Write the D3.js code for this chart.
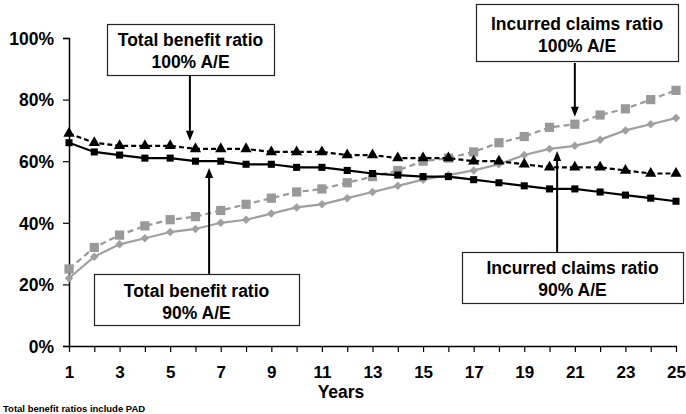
<!DOCTYPE html>
<html>
<head>
<meta charset="utf-8">
<script src="https://cdn.jsdelivr.net/npm/d3@7"></script>
<style>
  html, body { margin: 0; padding: 0; background: #fff; }
  svg { display: block; font-family: "Liberation Sans", Arial, sans-serif; }
</style>
</head>
<body>
<svg id="chart" width="686" height="414"></svg>
<script>
// Policy years on the horizontal axis
const years = d3.range(1, 26);
const xTickLabels = [1, 3, 5, 7, 9, 11, 13, 15, 17, 19, 21, 23, 25];
const yTicks = [0, 20, 40, 60, 80, 100];

// Ratios in percent, one value per year
const totalBenefit100 = [69, 66, 65, 65, 65, 64, 64, 64, 63, 63, 63, 62, 62, 61, 61, 61, 60, 60, 59, 58, 58, 58, 57, 56, 56];
const totalBenefit90  = [66, 63, 62, 61, 61, 60, 60, 59, 59, 58, 58, 57, 56, 55.5, 55, 55, 54, 53, 52, 51, 51, 50, 49, 48, 47];
const incurred100     = [25, 32, 36, 39, 41, 42, 44, 46, 48, 50, 51, 53, 55, 57, 60, 61, 63, 66, 68, 71, 72, 75, 77, 80, 83];
const incurred90      = [22, 29, 33, 35, 37, 38, 40, 41, 43, 45, 46, 48, 50, 52, 54, 55.5, 57, 59, 62, 64, 65, 67, 70, 72, 74];

const svg = d3.select("#chart");
const plotLeft = 69, plotRight = 676, plotTop = 38, plotBottom = 346;

const x = d3.scaleLinear().domain([1, 25]).range([plotLeft, plotRight]);
const y = d3.scaleLinear().domain([0, 100]).range([plotBottom, plotTop]);

// Axes
const yAxis = d3.axisLeft(y).tickValues(yTicks).tickSize(6).tickFormat(d => d + "%");
const gy = svg.append("g").attr("transform", `translate(${plotLeft},0)`).call(yAxis);
gy.select(".domain").attr("stroke", "#000").attr("stroke-width", 1.5);
gy.selectAll(".tick line").attr("stroke", "#000").attr("stroke-width", 1.2);
gy.selectAll(".tick text")
  .attr("x", -15).attr("dy", "0.36em")
  .attr("font-size", 17.5).attr("font-weight", "bold").attr("fill", "#000")
  .attr("font-family", "Liberation Sans, Arial, sans-serif");

const xAxis = d3.axisBottom(x).tickValues(years).tickSize(6).tickSizeOuter(0)
  .tickFormat(d => xTickLabels.includes(d) ? d : "");
const gx = svg.append("g").attr("transform", `translate(0,${plotBottom})`).call(xAxis);
gx.select(".domain").attr("stroke", "#000").attr("stroke-width", 1.5);
gx.selectAll(".tick line").attr("stroke", "#000").attr("stroke-width", 1.2);
gx.selectAll(".tick text")
  .attr("y", 20).attr("dy", "0.71em")
  .attr("font-size", 17).attr("font-weight", "bold").attr("fill", "#000")
  .attr("font-family", "Liberation Sans, Arial, sans-serif");

svg.append("text")
  .attr("x", 341).attr("y", 398)
  .attr("text-anchor", "middle")
  .attr("font-size", 17.5).attr("font-weight", "bold")
  .text("Years");

svg.append("text")
  .attr("x", 3).attr("y", 412)
  .attr("font-size", 9.5).attr("font-weight", "bold")
  .text("Total benefit ratios include PAD");

// Series
const series = [
  { values: incurred100, color: "#999999", dash: "6,4", symbol: d3.symbolSquare, size: 85, rotate: 0 },
  { values: incurred90, color: "#a0a0a0", dash: null, symbol: d3.symbolSquare, size: 36, rotate: 45 },
  { values: totalBenefit100, color: "#000000", dash: "5,3", symbol: d3.symbolTriangle, size: 55, rotate: 0 },
  { values: totalBenefit90, color: "#000000", dash: null, symbol: d3.symbolSquare, size: 50, rotate: 0 }
];

const line = d3.line().x((d, i) => x(years[i])).y(d => y(d));

series.forEach(s => {
  svg.append("path")
    .datum(s.values)
    .attr("d", line)
    .attr("fill", "none")
    .attr("stroke", s.color)
    .attr("stroke-width", 2.2)
    .attr("stroke-dasharray", s.dash);
  svg.append("g").selectAll("path")
    .data(s.values)
    .join("path")
    .attr("d", d3.symbol().type(s.symbol).size(s.size))
    .attr("transform", (d, i) => `translate(${x(years[i])},${y(d)}) rotate(${s.rotate})`)
    .attr("fill", s.color);
});

// Callout boxes with arrows (arrow ends given in years / percent)
const callouts = [
  { lines: ["Total benefit ratio", "100% A/E"], box: [107, 24, 167, 51], base: [46, 68],
    from: [5.78, 88.0], to: [5.78, 66.6] },
  { lines: ["Total benefit ratio", "90% A/E"], box: [94, 274, 205, 51], base: [297, 319],
    from: [6.54, 23.4], to: [6.54, 57.8] },
  { lines: ["Incurred claims ratio", "100% A/E"], box: [476, 4, 202, 57], base: [30, 52],
    from: [21.0, 91.9], to: [21.0, 74.4] },
  { lines: ["Incurred claims ratio", "90% A/E"], box: [462, 252, 221, 51], base: [274, 296],
    from: [20.3, 30.5], to: [20.3, 63.3] }
];

callouts.forEach(c => {
  const [bx, by, bw, bh] = c.box;
  const x1 = x(c.from[0]), y1 = y(c.from[1]), x2 = x(c.to[0]), y2 = y(c.to[1]);
  const dir = y2 > y1 ? 1 : -1;
  svg.append("line")
    .attr("x1", x1).attr("y1", y1).attr("x2", x2).attr("y2", y2 - dir * 6)
    .attr("stroke", "#000").attr("stroke-width", 2);
  svg.append("path")
    .attr("d", `M${x2},${y2} L${x2 - 4},${y2 - dir * 10} L${x2 + 4},${y2 - dir * 10} Z`)
    .attr("fill", "#000");
  svg.append("rect")
    .attr("x", bx + 0.5).attr("y", by + 0.5).attr("width", bw).attr("height", bh)
    .attr("fill", "#fff").attr("stroke", "#222").attr("stroke-width", 1.2);
  c.lines.forEach((t, i) => {
    svg.append("text")
      .attr("x", bx + bw / 2).attr("y", c.base[i])
      .attr("text-anchor", "middle")
      .attr("font-size", 17.5).attr("font-weight", "bold")
      .text(t);
  });
});
</script>
</body>
</html>
